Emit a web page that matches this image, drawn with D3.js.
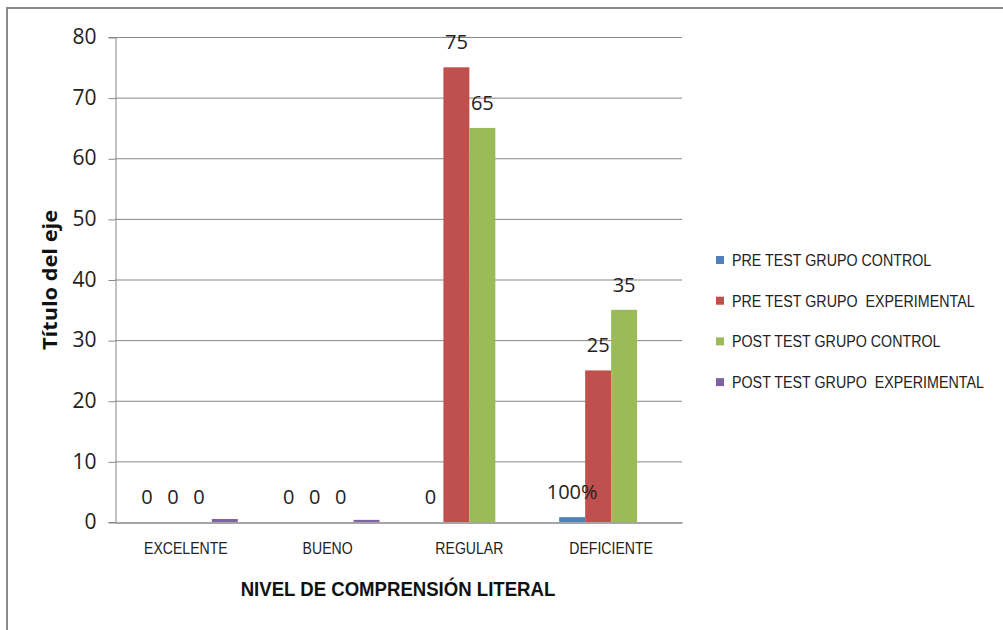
<!DOCTYPE html>
<html><head><meta charset="utf-8">
<script src="https://cdn.jsdelivr.net/npm/d3@7"></script>
<style>body{margin:0;background:#fff}svg{display:block}</style>
</head><body>
<svg id="c" width="1003" height="630"></svg>
<script>
const categories = ["EXCELENTE", "BUENO", "REGULAR", "DEFICIENTE"];
const seriesNames = ["PRE TEST GRUPO CONTROL", "PRE TEST GRUPO  EXPERIMENTAL", "POST TEST GRUPO CONTROL", "POST TEST GRUPO  EXPERIMENTAL"];
const preControl = [0, 0, 0, 0.8];
const preExperimental = [0, 0, 75, 25];
const postControl = [0, 0, 65, 35];
const postExperimental = [0.5, 0.35, 0, 0];
const seriesLabels = [["0", "0", "0", "100%"], ["0", "0", "75", "25"], ["0", "0", "65", "35"], null];
const yTicks = [0, 10, 20, 30, 40, 50, 60, 70, 80];
const colors = ["#4F81BD", "#C0504D", "#9BBB59", "#8064A2"];
const seriesValues = [preControl, preExperimental, postControl, postExperimental];

const font = "'Liberation Sans',Arial,sans-serif";
const numFont = "'Open Sans','Liberation Sans',sans-serif";
const svg = d3.select("#c");
svg.append("path").attr("d", "M7,630V8H1003").attr("fill", "none").attr("stroke", "#8a8a8a").attr("stroke-width", 2);

const L = 115, R = 682, T = 37, B = 522;
const x = d3.scaleBand().domain(categories).range([L, R]).paddingInner(0).paddingOuter(0);
const inner = d3.scaleBand().domain(d3.range(4)).range([0, x.bandwidth()]).paddingInner(0).paddingOuter(0.73);
const y = d3.scaleLinear().domain([0, 80]).range([B, T]);

// gridlines
svg.append("g").selectAll("line").data(yTicks.filter(d => d > 0)).join("line")
  .attr("x1", L).attr("x2", R).attr("y1", d => y(d) + 0.5).attr("y2", d => y(d) + 0.5)
  .attr("stroke", "#878787").attr("stroke-width", 1);

// y axis
const ya = svg.append("g").attr("transform", `translate(${L + 0.5},0)`)
  .call(d3.axisLeft(y).tickValues(yTicks).tickSize(7).tickPadding(12));
ya.select(".domain").attr("stroke", "#878787");
ya.selectAll(".tick line").attr("stroke", "#878787").attr("transform", "translate(0,0.5)");
ya.selectAll(".tick text").attr("font-family", numFont).attr("font-size", 21).attr("fill", "#222");

// bars
seriesValues.forEach((vals, s) => {
  svg.append("g").selectAll("rect").data(vals.map((v, i) => ({v, c: categories[i]}))).join("rect")
    .attr("x", d => x(d.c) + inner(s)).attr("width", inner.bandwidth())
    .attr("y", d => y(d.v)).attr("height", d => B - y(d.v))
    .attr("fill", colors[s]);
});

// x axis
const xa = svg.append("g").attr("transform", `translate(0,${B + 0.5})`)
  .call(d3.axisBottom(x).tickSize(0).tickPadding(20));
xa.select(".domain").attr("stroke", "#878787").attr("stroke-width", 1.5);
xa.selectAll(".tick text").attr("font-family", font).attr("font-size", 16).attr("fill", "#222")
  .attr("transform", "scale(0.88,1)");

// data labels
seriesLabels.forEach((labs, s) => {
  if (!labs) return;
  svg.append("g").selectAll("text").data(labs.map((t, i) => ({t, c: categories[i], v: seriesValues[s][i]}))).join("text")
    .attr("x", d => x(d.c) + inner(s) + inner.bandwidth() / 2)
    .attr("y", d => y(d.v) - 18)
    .attr("text-anchor", "middle")
    .attr("font-family", numFont).attr("font-size", 20).attr("fill", "#222")
    .text(d => d.t);
});

// axis titles
svg.append("text").attr("transform", "translate(398,596) scale(0.93,1)").attr("text-anchor", "middle")
  .attr("font-family", font).attr("font-weight", "bold").attr("font-size", 20).attr("fill", "#111")
  .text("NIVEL DE COMPRENSIÓN LITERAL");
svg.append("text").attr("transform", "translate(57,280) rotate(-90)").attr("text-anchor", "middle")
  .attr("font-family", numFont).attr("font-weight", "bold").attr("font-size", 19).attr("fill", "#111")
  .attr("textLength", 140).attr("lengthAdjust", "spacingAndGlyphs")
  .text("Título del eje");

// legend
const lg = svg.append("g").selectAll("g").data(seriesNames).join("g")
  .attr("transform", (d, i) => `translate(716,${260 + i * 40.7})`);
lg.append("rect").attr("x", 0).attr("y", -4).attr("width", 8).attr("height", 8).attr("fill", (d, i) => colors[i]);
lg.append("text").attr("transform", "translate(16,6) scale(0.84,1)").attr("font-family", font).attr("font-size", 17).attr("fill", "#222")
  .attr("xml:space", "preserve").style("white-space", "pre").text(d => d);
</script>
</body></html>
